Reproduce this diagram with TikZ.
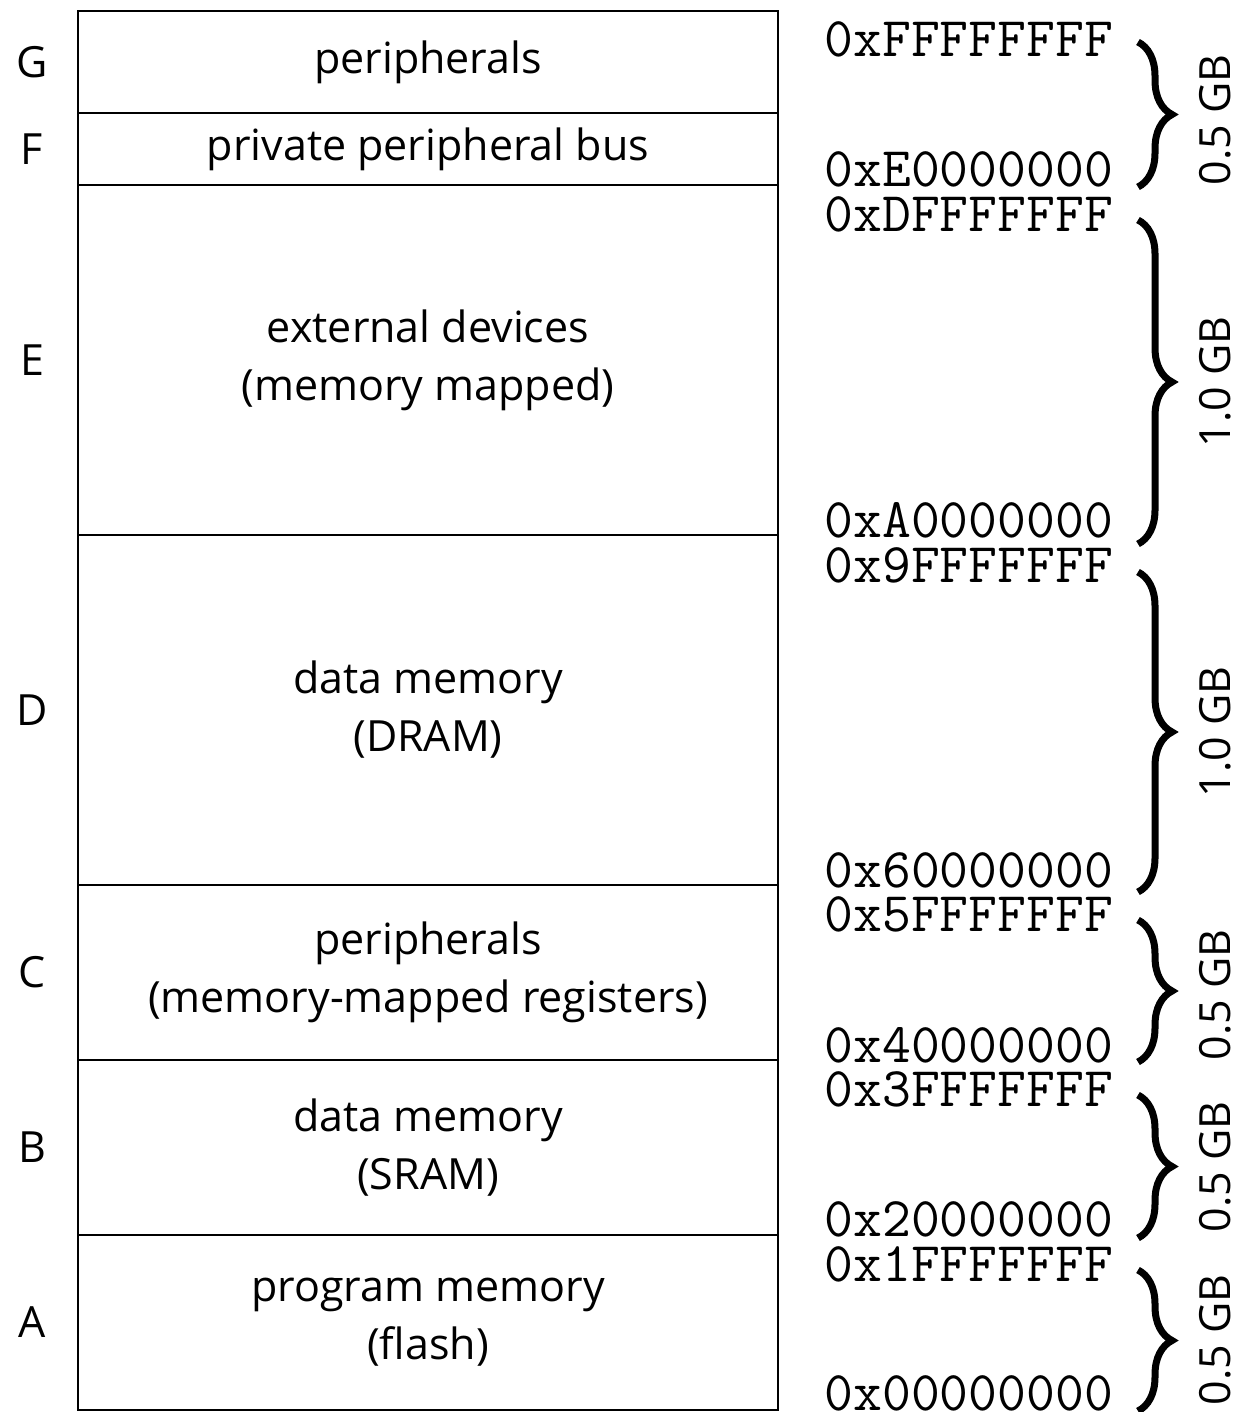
\documentclass[tikz,border=0pt]{standalone}
\usepackage{fontspec}
\setmainfont{Open Sans}
\usetikzlibrary{positioning, decorations.pathreplacing}

\begin{document}
\begin{tikzpicture}[
                    x=1pt, y=-1pt,
                    every node/.style={font=\fontsize{43}{58}\selectfont, inner sep=0pt, outer sep=0pt},
                    region/.style={draw, line width=1.5pt, minimum width=700pt, align=center, anchor=north west},
                    letter/.style={},
                    addr/.style={font=\ttfamily\fontsize{56}{56}\selectfont, text height=33pt, text depth=0pt, anchor=east},
                    brace/.style={decorate, decoration={brace, amplitude=34pt}, line width=7pt},
                    size/.style={rotate=90}
                ]
                  \useasboundingbox (0,0) rectangle (1244,1412);
                  \foreach \n/\t/\b/\txt in {G/11/113/peripherals,
                                             F/113/185/private peripheral bus,
                                             E/185/535/{external devices\\(memory mapped)},
                                             D/535/885/{data memory\\(DRAM)},
                                             C/885/1060/{peripherals\\(memory-mapped registers)},
                                             B/1060/1235/{data memory\\(SRAM)},
                                             A/1235/1410/{program memory\\(flash)}}
                  {
                    \node[region, minimum height={\b-\t}] (reg\n) at (78,\t) {\txt};
                    \node[letter] (lbl\n) at (32,{(\t+\b)/2}) {\n};
                  }
                  \foreach \a/\y in {FFFFFFFF/40, E0000000/170, DFFFFFFF/215, A0000000/521,
                                     9FFFFFFF/566, 60000000/871, 5FFFFFFF/915, 40000000/1046,
                                     3FFFFFFF/1090, 20000000/1220, 1FFFFFFF/1265, 00000000/1394}
                    \node[addr] (a\a) at (1113,\y) {0x\a};
                  \draw[brace] ([shift={(25,2)}]aFFFFFFFF.east) -- ([shift={(25,17)}]aE0000000.east);
                  \draw[brace] ([shift={(25,5)}]aDFFFFFFF.east) -- ([shift={(25,23)}]aA0000000.east);
                  \draw[brace] ([shift={(25,6)}]a9FFFFFFF.east) -- ([shift={(25,21)}]a60000000.east);
                  \draw[brace] ([shift={(25,5)}]a5FFFFFFF.east) -- ([shift={(25,16)}]a40000000.east);
                  \draw[brace] ([shift={(25,5)}]a3FFFFFFF.east) -- ([shift={(25,18)}]a20000000.east);
                  \draw[brace] ([shift={(25,5)}]a1FFFFFFF.east) -- ([shift={(25,17)}]a00000000.east);
                  \node[size] (s1) at (1215,120) {0.5 GB};
                  \node[size] (s2) at (1215,382) {1.0 GB};
                  \node[size] (s3) at (1215,732) {1.0 GB};
                  \node[size] (s4) at (1215,995) {0.5 GB};
                  \node[size] (s5) at (1215,1167) {0.5 GB};
                  \node[size] (s6) at (1215,1340) {0.5 GB};
                \end{tikzpicture}
\end{document}
